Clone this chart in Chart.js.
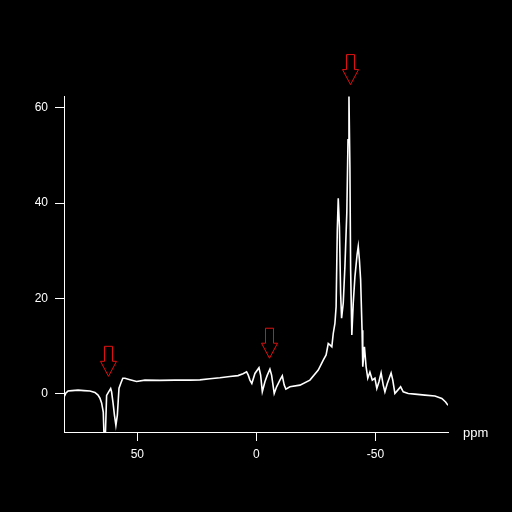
<!DOCTYPE html>
<html>
<head>
<meta charset="utf-8">
<script src="https://cdn.jsdelivr.net/npm/chart.js@4"></script>
<style>
html,body{margin:0;padding:0;background:#000;}
#wrap{width:512px;height:512px;}
</style>
</head>
<body>
<div id="wrap"><canvas id="c" width="512" height="512"></canvas></div>
<script>
// Chemical shift (ppm) and intensity
const ppm = [80.6,80.0,79.1,77.4,74.9,72.4,69.9,67.8,66.5,65.7,65.0,64.3,63.8,63.5,62.9,62.1,61.2,60.8,60.2,59.6,59.0,58.4,57.7,56.9,56.1,55.2,53.1,50.3,46.8,40.5,34.2,27.9,23.7,19.5,15.3,11.1,7.7,5.6,4.1,3.4,2.7,1.9,0.6,-1.1,-1.8,-2.5,-3.6,-4.6,-5.7,-6.4,-7.5,-8.5,-9.9,-10.9,-11.7,-12.4,-14.1,-18.3,-22.5,-26.0,-28.1,-29.3,-30.2,-30.9,-31.7,-32.3,-33.0,-33.5,-34.0,-34.4,-34.9,-35.4,-35.8,-36.5,-37.2,-38.0,-38.5,-38.9,-39.3,-39.6,-40.1,-40.7,-41.4,-42.3,-42.8,-43.3,-43.8,-44.4,-44.7,-45.4,-46.1,-46.8,-47.7,-48.7,-49.8,-50.6,-51.5,-52.4,-53.3,-54.0,-55.0,-56.6,-57.3,-58.2,-59.4,-60.6,-61.7,-63.8,-66.6,-70.8,-75.0,-77.9,-79.5,-80.5];
const intensity = [-0.6,0.1,0.5,0.6,0.7,0.6,0.5,0.2,-0.35,-1.0,-2.0,-3.9,-12,-10,-0.4,0.3,1.05,0.3,-2.0,-4.6,-6.7,-4.6,1.1,2.2,3.2,3.2,2.9,2.5,2.8,2.75,2.8,2.8,2.85,3.1,3.3,3.55,3.75,4.15,4.55,3.85,2.8,2.1,4.2,5.4,3.85,0.35,2.45,3.85,5.1,3.85,0.0,1.4,2.8,3.7,1.75,0.9,1.4,1.75,2.8,4.9,7.0,8.1,10.5,10.2,9.8,12.6,14.7,18.2,34.4,41.0,35.0,21.0,15.8,19.0,26.7,38.0,53.3,62.4,47.4,26.0,12.3,19.0,24.5,29.1,30.9,28.0,23.9,13.3,5.6,9.8,5.6,3.2,4.5,2.8,3.2,1.05,2.45,4.3,1.75,0.35,2.1,4.3,2.8,0.0,0.7,1.4,0.35,0.0,-0.15,-0.35,-0.55,-1.05,-1.8,-2.5];
const xTicks = [50, 0, -50];
const yTicks = [0, 20, 40, 60];
// Red marker arrows: position (ppm) and the intensity their tips point to
const arrowPpm = [62.2, -5.4, -39.3];
const arrowTip = [3.6, 7.4, 64.9];

const FONT = "'Liberation Sans', Arial, sans-serif";

const bgPlugin = {
  id: 'bg',
  beforeDraw(chart) {
    const ctx = chart.ctx;
    ctx.save();
    ctx.fillStyle = '#000';
    ctx.fillRect(0, 0, chart.width, chart.height);
    ctx.restore();
  }
};

const extrasPlugin = {
  id: 'extras',
  afterDraw(chart) {
    const ctx = chart.ctx;
    const xs = chart.scales.x, ys = chart.scales.y;
    ctx.save();
    // arrows
    ctx.strokeStyle = '#e01010';
    ctx.lineWidth = 1;
    for (let i = 0; i < arrowPpm.length; i++) {
      const cx = Math.round(xs.getPixelForValue(arrowPpm[i])) + 0.5;
      const ty = ys.getPixelForValue(arrowTip[i]);
      const top = ty - 30, neck = ty - 15;
      ctx.beginPath();
      ctx.moveTo(cx - 4, top);
      ctx.lineTo(cx + 4, top);
      ctx.lineTo(cx + 4, neck);
      ctx.lineTo(cx + 8, neck);
      ctx.lineTo(cx, ty);
      ctx.lineTo(cx - 8, neck);
      ctx.lineTo(cx - 4, neck);
      ctx.closePath();
      ctx.stroke();
    }
    // axis unit label
    ctx.fillStyle = '#fff';
    ctx.font = '13px ' + FONT;
    ctx.textAlign = 'left';
    ctx.textBaseline = 'middle';
    ctx.fillText('ppm', chart.chartArea.right + 15, chart.chartArea.bottom + 1);
    ctx.restore();
  }
};

new Chart(document.getElementById('c'), {
  type: 'line',
  data: {
    labels: ppm,
    datasets: [{
      data: ppm.map((p, i) => ({x: p, y: intensity[i]})),
      borderColor: '#ffffff',
      borderWidth: 1.6,
      pointRadius: 0,
      tension: 0,
      fill: false
    }]
  },
  options: {
    responsive: false,
    animation: false,
    devicePixelRatio: 1,
    layout: {padding: {left: 0, top: 96, right: 64, bottom: 0}},
    plugins: {legend: {display: false}, tooltip: {enabled: false}},
    scales: {
      x: {
        type: 'linear',
        reverse: true,
        min: -80.5,
        max: 80.8,
        afterBuildTicks(s) { s.ticks = xTicks.map(v => ({value: v})); },
        afterFit(s) { s.height = 80; },
        grid: {drawOnChartArea: false, drawTicks: true, tickLength: 9, color: '#fff', lineWidth: 1},
        border: {color: '#fff', width: 1},
        ticks: {color: '#fff', font: {family: FONT, size: 12}, padding: 6, maxRotation: 0, autoSkip: false}
      },
      y: {
        type: 'linear',
        min: -8.1,
        max: 62.5,
        afterBuildTicks(s) { s.ticks = yTicks.map(v => ({value: v})); },
        afterFit(s) { s.width = 64; },
        grid: {drawOnChartArea: false, drawTicks: true, tickLength: 9, color: '#fff', lineWidth: 1},
        border: {color: '#fff', width: 1},
        ticks: {color: '#fff', font: {family: FONT, size: 12}, padding: 7, autoSkip: false}
      }
    }
  },
  plugins: [bgPlugin, extrasPlugin]
});
</script>
</body>
</html>
